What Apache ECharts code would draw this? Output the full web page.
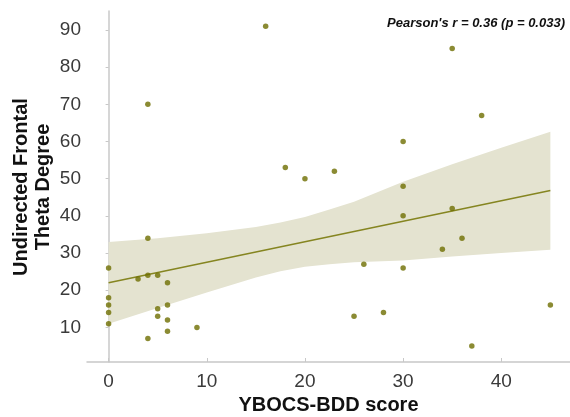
<!DOCTYPE html>
<html lang="en">
<head>
    <meta charset="UTF-8">
    <title>YBOCS-BDD vs Theta</title>
    <script src="https://cdn.jsdelivr.net/npm/echarts@6/dist/echarts.min.js"></script>
    <style>
        html, body { margin: 0; padding: 0; background: #fff; }
    </style>
</head>
<body>
    <div id="chart" style="width: 570px;height:417px;"></div>
</body>
</html>
<script type="text/javascript">
    // scatter points (YBOCS-BDD score, theta degree)
    var scoreX = [0, 0, 0, 0, 0, 3, 4, 4, 4, 4, 5, 5, 5, 6, 6, 6, 6, 9, 16, 18,
                  20, 23, 25, 26, 28, 30, 30, 30, 30, 34, 35, 35, 36, 37, 38, 45];
    var thetaY = [26, 18, 16, 14, 11, 23, 34, 24, 7, 70, 24, 15, 13, 22, 16, 12, 9, 10, 91, 53,
                  50, 52, 13, 27, 14, 60, 48, 40, 26, 31, 85, 42, 34, 5, 67, 16];

    // fitted line end points
    var fitX = [0, 45];
    var fitY = [22.0, 46.8];

    // confidence band
    var bandX = [0, 5, 10, 15, 17.5, 20, 22.5, 25, 30, 35, 40, 45];
    var bandUpper = [33.0, 34.0, 35.3, 37.0, 38.2, 39.7, 41.7, 43.8, 49.2, 53.9, 58.3, 62.6];
    var bandLower = [11.0, 15.2, 19.4, 23.4, 25.1, 26.3, 27.0, 27.5, 28.0, 29.1, 30.0, 30.9];

    var xTicks = [0, 10, 20, 30, 40];
    var yTicks = [10, 20, 30, 40, 50, 60, 70, 80, 90];

    var pts = [];
    for (var i = 0; i < scoreX.length; i++) {
        pts.push([scoreX[i], thetaY[i]]);
    }
    var fit = [[fitX[0], fitY[0]], [fitX[1], fitY[1]]];

    var myChart = echarts.init(document.getElementById('chart'));

    var option = {
        animation: false,
        backgroundColor: '#fff',
        grid: { left: 87, right: 0, top: 11, bottom: 55, outerBoundsMode: 'none' },
        graphic: [{
            type: 'text',
            right: 5,
            top: 17,
            style: {
                text: "Pearson's r = 0.36 (p = 0.033)",
                font: 'italic bold 13px "Liberation Sans", Arial, sans-serif',
                fill: '#111'
            }
        }, {
            // y axis title, placed by hand so it sits close to the labels
            type: 'text',
            x: 32,
            y: 187,
            rotation: Math.PI / 2,
            style: {
                text: 'Undirected Frontal\nTheta Degree',
                font: 'bold 20px "Liberation Sans", Arial, sans-serif',
                lineHeight: 22,
                fill: '#111',
                align: 'center',
                verticalAlign: 'middle'
            }
        }],
        xAxis: {
            type: 'value',
            min: -2.2,
            max: 47,
            name: 'YBOCS-BDD score',
            nameLocation: 'middle',
            nameGap: 33,
            nameTextStyle: {
                fontSize: 20, fontWeight: 'bold', color: '#111',
                fontFamily: '"Liberation Sans", Arial, sans-serif'
            },
            splitLine: { show: false },
            axisLine: { lineStyle: { color: '#c8c8c8', width: 1.5 } },
            axisTick: {
                inside: true, length: 4, customValues: xTicks,
                lineStyle: { color: '#c8c8c8' }
            },
            axisLabel: {
                customValues: xTicks, fontSize: 19, color: '#3a3a3a', margin: 10,
                fontFamily: '"Liberation Sans", Arial, sans-serif'
            }
        },
        yAxis: {
            type: 'value',
            min: 0.7,
            max: 95.1,
            splitLine: { show: false },
            axisLine: { show: true, lineStyle: { color: '#c8c8c8', width: 1.5 } },
            axisTick: {
                show: true, length: 3, customValues: yTicks,
                lineStyle: { color: '#c8c8c8' }
            },
            axisLabel: {
                customValues: yTicks, fontSize: 19, color: '#3a3a3a', margin: 6,
                fontFamily: '"Liberation Sans", Arial, sans-serif'
            }
        },
        series: [
            {
                // shaded confidence band
                type: 'custom',
                z: 1,
                silent: true,
                data: [0],
                renderItem: function (params, api) {
                    var poly = [];
                    for (var k = 0; k < bandX.length; k++) {
                        poly.push(api.coord([bandX[k], bandUpper[k]]));
                    }
                    for (var k = bandX.length - 1; k >= 0; k--) {
                        poly.push(api.coord([bandX[k], bandLower[k]]));
                    }
                    return {
                        type: 'polygon',
                        shape: { points: poly },
                        style: { fill: '#e4e3d0' }
                    };
                }
            },
            {
                type: 'line',
                z: 2,
                data: fit,
                symbol: 'none',
                lineStyle: { color: '#858520', width: 1.5 }
            },
            {
                type: 'scatter',
                z: 3,
                data: pts,
                symbolSize: 5.5,
                itemStyle: { color: '#6e6e00' }
            }
        ]
    };

    myChart.setOption(option);
</script>
